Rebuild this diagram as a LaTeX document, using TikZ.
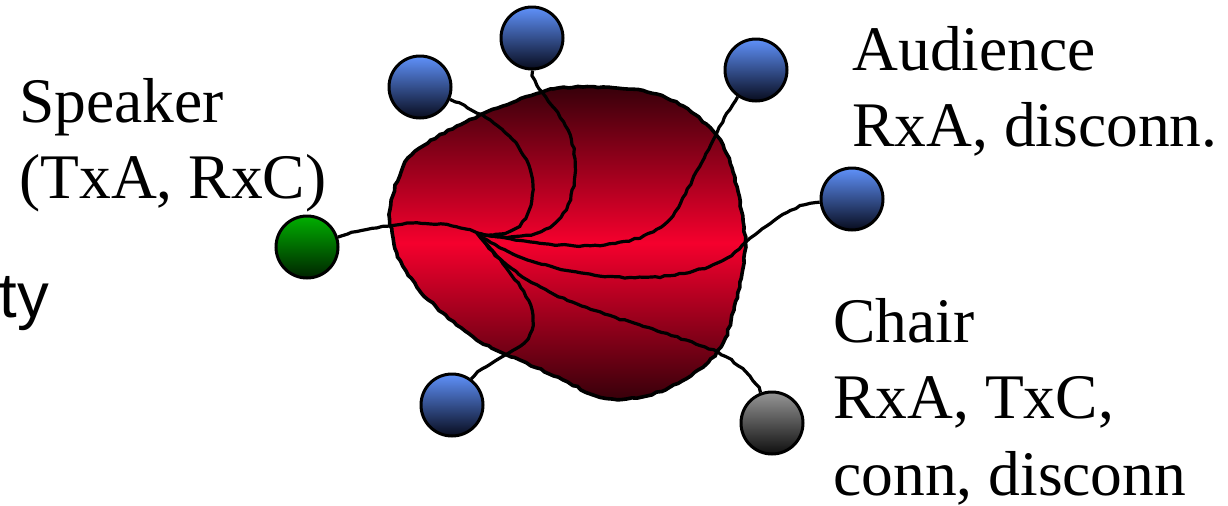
\documentclass[tikz,border=0pt]{standalone}
\usepackage{fontspec}
\setmainfont{Liberation Serif}
\setsansfont{Liberation Sans}
\usetikzlibrary{decorations.pathmorphing}

\definecolor{blobdark}{RGB}{55,0,10}
\definecolor{blobmid}{RGB}{245,0,45}
\definecolor{peertop}{RGB}{95,145,250}
\definecolor{peerbot}{RGB}{8,12,30}
\definecolor{spktop}{RGB}{0,175,0}
\definecolor{spkbot}{RGB}{0,35,0}
\definecolor{chrtop}{RGB}{150,150,150}
\definecolor{chrbot}{RGB}{15,15,15}

\begin{document}
\begin{tikzpicture}[
    x=0.5pt, y=-0.5pt,
    peer/.style={circle, draw, line width=1.5pt, minimum size=31pt, inner sep=0pt, top color=peertop, bottom color=peerbot},
    blob/.style={draw, line width=1.8pt, top color=blobdark, bottom color=blobdark, middle color=blobmid},
    wire/.style={line width=1.6pt, decorate, decoration={random steps, segment length=2.5pt, amplitude=0.4pt}},
    lbl/.style={anchor=base west, inner sep=0pt, align=left, font=\fontsize{31.75}{38.25}\selectfont},
]
    \pgfmathsetseed{11}
    \useasboundingbox (0,0) rectangle (1228,505);

    % Conference cloud
    \path[blob, decorate, decoration={random steps, segment length=2.5pt, amplitude=0.45pt}]
        plot[smooth cycle, tension=0.55] coordinates {(553,89) (603,87) (647,92) (683,106) (717,136) (733,172) (744,227) (744,263) (734,310) (723,343) (703,367) (670,387) (637,398) (600,397) (563,380) (520,360) (477,340) (443,313) (417,287) (397,253) (390,210) (403,167) (423,146) (457,126) (503,106)};
    \coordinate (hub) at (477,233);

    % Parties
    \node[peer, top color=spktop, bottom color=spkbot] (spk) at (307,247) {};
    \node[peer] (aud1) at (420,87) {};
    \node[peer] (aud2) at (532,38) {};
    \node[peer] (aud3) at (756,70) {};
    \node[peer] (aud4) at (852,199) {};
    \node[peer] (aud5) at (452,405) {};
    \node[peer, top color=chrtop, bottom color=chrbot] (chr) at (772,423) {};

    % Wires to the hub
    \draw[wire] (spk) .. controls (385,222) and (440,217) .. (hub);
    \draw[wire] (aud1) .. controls (500,120) and (533,150) .. (533,190) .. controls (533,228) and (505,240) .. (hub);
    \draw[wire] (aud2) .. controls (533,95) and (575,115) .. (575,165) .. controls (575,235) and (530,244) .. (hub);
    \draw[wire] (aud3) .. controls (715,130) and (700,170) .. (675,212) .. controls (645,256) and (560,250) .. (hub);
    \draw[wire] (aud4) .. controls (790,205) and (770,222) .. (735,252) .. controls (685,293) and (545,284) .. (hub);
    \draw[wire] (aud5) .. controls (485,360) and (530,352) .. (533,325) .. controls (536,295) and (495,255) .. (hub);
    \draw[wire] (chr) .. controls (755,378) and (735,358) .. (705,347) .. controls (620,315) and (525,302) .. (hub);

    % Labels (base = last line)
    \node[lbl] (spklbl) at (19,198.5) {Speaker\\(TxA, RxC)};
    \node[lbl] (audlbl) at (852,146.5) {Audience\\RxA, disconn.};
    \node[lbl] (chrlbl) at (833,495) {Chair\\RxA, TxC,\\conn, disconn};
    \node[lbl, font=\sffamily\fontsize{31.75}{38.25}\selectfont] (tylbl) at (-1,317) {ty};
\end{tikzpicture}
\end{document}
